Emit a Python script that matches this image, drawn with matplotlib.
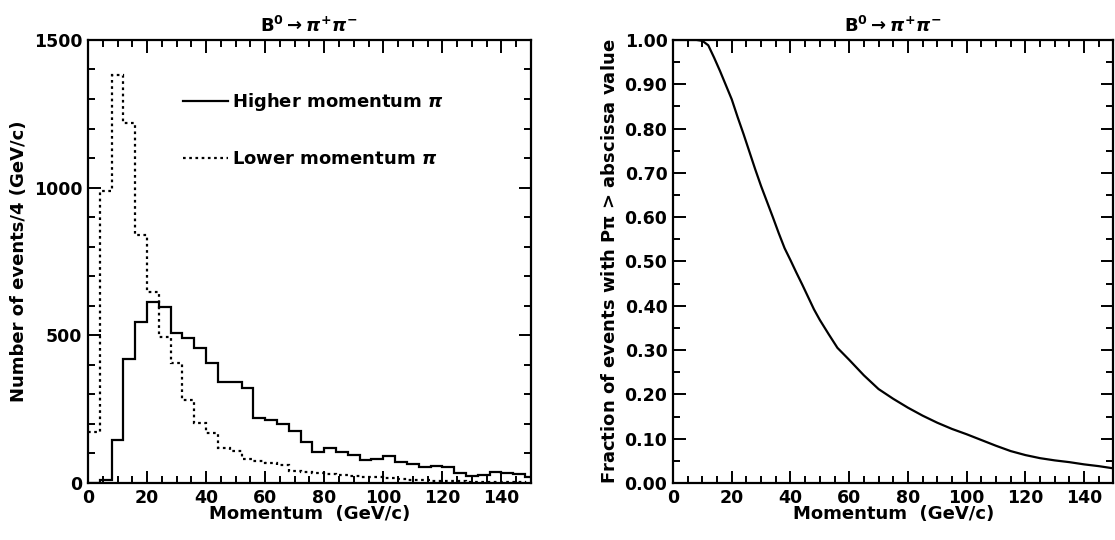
import numpy as np
import matplotlib.pyplot as plt
from matplotlib.ticker import MultipleLocator

plt.rcParams['font.family'] = ['DejaVu Sans']
plt.rcParams['font.weight'] = 'bold'
plt.rcParams['axes.labelweight'] = 'bold'
plt.rcParams['axes.titleweight'] = 'bold'
plt.rcParams['mathtext.default'] = 'bf'

# Data: histograms in 4 GeV/c bins
bin_edges = np.arange(0, 153, 4)
higher_pi = [0, 10, 145, 419, 546, 614, 597, 509, 492, 456,
             407, 341, 343, 323, 219, 213, 199, 176, 138, 106,
             120, 104, 95, 79, 81, 92, 70, 64, 55, 59,
             53, 33, 25, 27, 38, 33, 29, 19]
lower_pi = [174, 990, 1381, 1218, 840, 648, 495, 405, 281, 204,
            168, 117, 109, 80, 76, 67, 61, 42, 38, 33,
            30, 26, 22, 20, 19, 18, 12, 10, 9, 8,
            6, 5, 4, 3, 3, 2, 2, 1]

# Fraction of events above a given momentum
momentum = [0, 8, 10, 12, 14, 16, 18, 20, 22, 24, 26, 28, 30, 32, 34, 36, 38,
            40, 42, 44, 46, 48, 50, 53, 56, 60, 65, 70, 75, 80, 85, 90, 95,
            100, 105, 110, 115, 120, 125, 130, 135, 140, 145, 150]
fraction = [1.0, 1.0, 0.998, 0.988, 0.960, 0.930, 0.898, 0.866, 0.826, 0.788,
            0.748, 0.708, 0.670, 0.635, 0.600, 0.564, 0.530, 0.503, 0.475,
            0.448, 0.420, 0.392, 0.368, 0.336, 0.305, 0.278, 0.243, 0.212,
            0.190, 0.170, 0.152, 0.136, 0.122, 0.110, 0.097, 0.084, 0.072,
            0.063, 0.056, 0.051, 0.047, 0.042, 0.038, 0.033]

title = r'B$^{0}$$\rightarrow$$\mathit{\pi}^{+}\mathit{\pi}^{-}$'

fig = plt.figure(figsize=(11.15, 5.4), dpi=100)
ax1 = fig.add_axes([0.0789, 0.1056, 0.3973, 0.8204])
ax2 = fig.add_axes([0.6036, 0.1056, 0.3950, 0.8204])


def style_axes(ax):
    for s in ax.spines.values():
        s.set_linewidth(1.6)
    ax.tick_params(which='both', direction='in', top=True, right=True,
                   width=1.4, labelsize=12.5, pad=4)
    ax.tick_params(which='major', length=9)
    ax.tick_params(which='minor', length=5)
    ax.xaxis.set_major_locator(MultipleLocator(20))
    ax.xaxis.set_minor_locator(MultipleLocator(5))
    ax.set_xlim(0, 150)
    ax.set_xlabel('Momentum  (GeV/c)', fontsize=13, labelpad=-1)
    ax.set_title(title, fontsize=13, pad=6)


# Left: momentum spectra
ax1.stairs(higher_pi, bin_edges, baseline=None, color='black', linewidth=1.6,
           label='Higher momentum $\\mathit{\\pi}$')
ax1.stairs(lower_pi, bin_edges, baseline=None, color='black', linewidth=1.6,
           linestyle=(0, (1.2, 1.6)), label='Lower momentum $\\mathit{\\pi}$')
ax1.set_ylim(0, 1500)
ax1.yaxis.set_major_locator(MultipleLocator(500))
ax1.yaxis.set_minor_locator(MultipleLocator(100))
ax1.set_ylabel('Number of events/4 (GeV/c)', fontsize=13)
style_axes(ax1)
ax1.legend(loc='upper left', bbox_to_anchor=(0.215, 0.885), frameon=False,
           fontsize=13, handlelength=2.5, handletextpad=0.2, labelspacing=2.05,
           borderpad=0, borderaxespad=0)

# Right: integrated fraction
ax2.plot(momentum, fraction, color='black', linewidth=1.6)
ax2.set_ylim(0, 1.0)
ax2.yaxis.set_major_locator(MultipleLocator(0.1))
ax2.yaxis.set_minor_locator(MultipleLocator(0.05))
ax2.yaxis.set_major_formatter(plt.FormatStrFormatter('%.2f'))
ax2.set_ylabel('Fraction of events with P$\\pi$ > abscissa value', fontsize=13)
style_axes(ax2)

fig.savefig('out.png', dpi=100)
